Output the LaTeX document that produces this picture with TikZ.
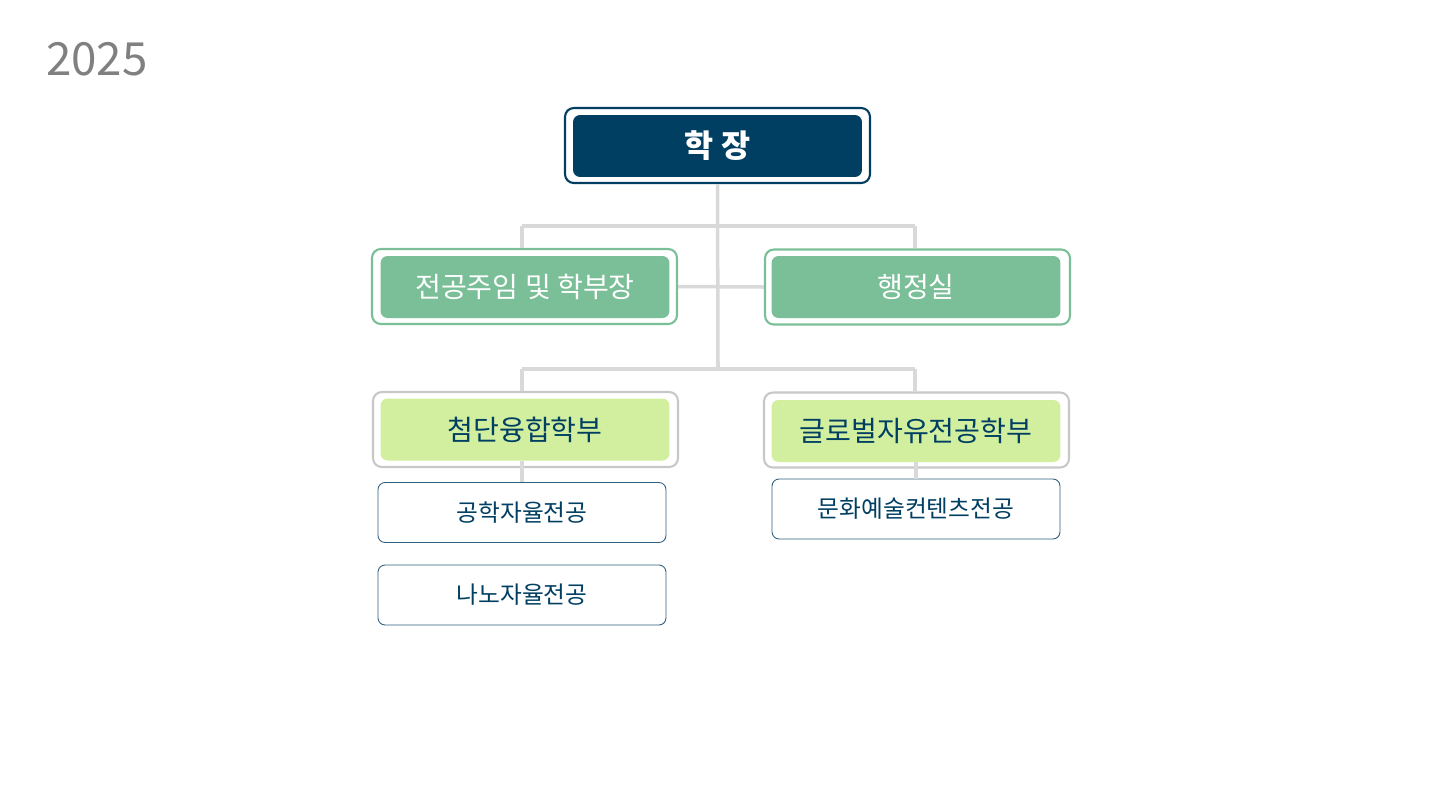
\documentclass[tikz,border=0pt]{standalone}
\usepackage{fontspec}
\setmainfont{Noto Sans CJK KR}
\definecolor{navy}{HTML}{003F62}
\definecolor{sage}{HTML}{7BBF98}
\definecolor{lime}{HTML}{D2EF9F}
\definecolor{frame}{HTML}{C8C8C8}
\definecolor{wire}{HTML}{D9D9D9}
\definecolor{leafline}{HTML}{2F5F7F}
\tikzset{
  outerbox/.style={draw, rounded corners=5pt, line width=1.2pt, minimum width=6.1cm, minimum height=1.5cm},
  innerbox/.style={rounded corners=4pt, minimum width=5.78cm, minimum height=1.24cm},
  leafbox/.style={draw=leafline, rounded corners=4pt, line width=0.5pt, fill=white, minimum width=5.76cm, minimum height=1.2cm, text=navy, font=\fontsize{13.5}{15}\selectfont},
  wireline/.style={draw=wire, line width=2pt}
}
\begin{document}
\begin{tikzpicture}[x=0.02cm, y=-0.02cm]
\useasboundingbox (0,0) rectangle (1435,805);
\node[text=gray, font=\fontsize{26}{30}\selectfont, anchor=west] (year) at (40,59) {2025};

% connectors first
\coordinate (hub1) at (718,226);
\coordinate (hub2) at (718,369);
\coordinate (l1) at (522,226);
\coordinate (r1) at (915,226);
\coordinate (l2) at (522,369);
\coordinate (r2) at (915,369);

\node[outerbox, draw=navy, fill=white] (deanout) at (717.5,145.5) {};
\node[outerbox, draw=sage, fill=white] (chairout) at (524.5,286.5) {};
\node[outerbox, draw=sage, fill=white] (adminout) at (917.5,287) {};
\node[outerbox, draw=frame, fill=white] (fusionout) at (525.5,429.5) {};
\node[outerbox, draw=frame, fill=white] (globalout) at (916.5,430) {};

\draw[wireline] (deanout.south) -- (hub2);
\draw[wireline] (l1) -- (r1);
\draw[wireline] (l1) -- (chairout.north -| l1);
\draw[wireline] (r1) -- (adminout.north -| r1);
\draw[wireline] (chairout.east) -- (adminout.west);
\draw[wireline] (l2) -- (r2);
\draw[wireline] (l2) -- (fusionout.north -| l2);
\draw[wireline] (r2) -- (globalout.north -| r2);

\node[innerbox, fill=navy, text=white, font=\fontsize{18}{20}\selectfont\bfseries] (dean) at (717.5,146) {학 장};
\node[innerbox, fill=sage, text=white, font=\fontsize{16}{18}\selectfont] (chair) at (525,287) {전공주임 및 학부장};
\node[innerbox, fill=sage, text=white, font=\fontsize{16}{18}\selectfont] (admin) at (916,287) {행정실};
\node[innerbox, fill=lime, text=navy, font=\fontsize{16}{18}\selectfont] (fusion) at (525,429.5) {첨단융합학부};
\node[innerbox, fill=lime, text=navy, font=\fontsize{16}{18}\selectfont] (global) at (916,431) {글로벌자유전공학부};

\node[leafbox] (engin) at (522,512.5) {공학자율전공};
\node[leafbox] (nano) at (522,595) {나노자율전공};
\node[leafbox] (culture) at (916,509) {문화예술컨텐츠전공};

\draw[wireline] (fusion.south -| engin) -- (engin.north);
\draw[wireline] (global.south -| culture) -- (culture.north);
\end{tikzpicture}
\end{document}
